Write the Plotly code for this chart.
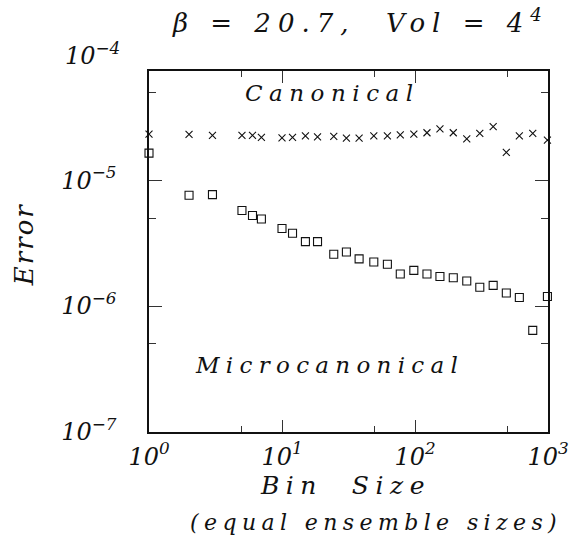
import plotly.graph_objects as go

bin_size = [1, 2, 3, 5, 6, 7, 10, 12, 15, 18.5, 24.5, 30.5, 38, 49, 62, 77.5, 98,
            123, 154, 194, 245, 307, 387, 486, 609, 768, 990]
canonical = [2.32e-5, 2.31e-5, 2.27e-5, 2.27e-5, 2.27e-5, 2.19e-5, 2.17e-5, 2.19e-5,
             2.25e-5, 2.21e-5, 2.23e-5, 2.16e-5, 2.16e-5, 2.25e-5, 2.25e-5, 2.29e-5,
             2.32e-5, 2.38e-5, 2.56e-5, 2.38e-5, 2.13e-5, 2.35e-5, 2.66e-5, 1.66e-5,
             2.25e-5, 2.35e-5, 2.08e-5]
microcanonical = [1.64e-5, 7.6e-6, 7.67e-6, 5.74e-6, 5.24e-6, 4.92e-6, 4.13e-6, 3.79e-6,
                  3.25e-6, 3.25e-6, 2.58e-6, 2.69e-6, 2.37e-6, 2.24e-6, 2.15e-6, 1.80e-6,
                  1.92e-6, 1.80e-6, 1.72e-6, 1.68e-6, 1.58e-6, 1.41e-6, 1.46e-6, 1.27e-6,
                  1.17e-6, 6.41e-7, 1.19e-6]

x_ticks = [1, 10, 100, 1000]
x_ticktext = ["10<sup>0</sup>", "10<sup>1</sup>", "10<sup>2</sup>", "10<sup>3</sup>"]
x_minor = [5, 50, 500]
y_ticks = [1e-7, 1e-6, 1e-5, 1e-4]
y_ticktext = ["10<sup>\u22127</sup>", "10<sup>\u22126</sup>", "10<sup>\u22125</sup>", "10<sup>\u22124</sup>"]
y_minor = [5e-7, 5e-6, 5e-5]
y_range = [-7, -4.133]

FONT = "DejaVu Serif"
INK = "#111111"
TICK_SIZE = 24

fig = go.Figure()
fig.add_trace(go.Scatter(
    x=bin_size, y=canonical, mode="markers", name="Canonical",
    marker=dict(symbol="x-thin-open", size=7, color=INK, line=dict(width=1.1, color=INK)),
    cliponaxis=False, showlegend=False))
fig.add_trace(go.Scatter(
    x=bin_size, y=microcanonical, mode="markers", name="Microcanonical",
    marker=dict(symbol="square-open", size=8, color=INK, line=dict(width=1.1, color=INK)),
    cliponaxis=False, showlegend=False))

axis_common = dict(showline=True, linecolor=INK, linewidth=1.5, mirror="ticks",
                   ticks="inside", tickcolor="#333333", tickwidth=1.2,
                   showgrid=False, zeroline=False)

fig.update_xaxes(type="log", range=[0, 3], tickvals=x_ticks, ticktext=x_ticktext,
                 ticklen=12, ticklabelstandoff=2,
                 minor=dict(tickvals=x_minor, ticks="inside", ticklen=6, tickcolor="#333333", tickwidth=1.2),
                 tickfont=dict(family=FONT, size=TICK_SIZE, style="italic", color=INK),
                 **axis_common)
fig.update_yaxes(type="log", range=y_range, tickvals=y_ticks, ticktext=y_ticktext,
                 ticklen=13, ticklabelstandoff=26,
                 minor=dict(tickvals=y_minor, ticks="inside", ticklen=7, tickcolor="#333333", tickwidth=1.2),
                 tickfont=dict(family=FONT, size=TICK_SIZE, style="italic", color=INK),
                 **axis_common)

# the top decade label sits just above the plotted range -> place it in paper coords
top_frac = (-4.0 - y_range[0]) / (y_range[1] - y_range[0])
fig.add_annotation(text=y_ticktext[-1], xref="paper", yref="paper", x=0, y=top_frac,
                   xshift=-27, xanchor="right", yanchor="middle", showarrow=False,
                   font=dict(family=FONT, size=TICK_SIZE, style="italic", color=INK))

def ann(text, x, y, size, angle=0, spacing=3):
    fig.add_annotation(
        text=f'<span style="letter-spacing:{spacing}px">{text}</span>',
        xref="paper", yref="paper",
        x=(x - 149) / 406, y=(432 - y) / 361,
        showarrow=False, textangle=angle, xanchor="center", yanchor="middle",
        font=dict(family=FONT, size=size, style="italic", color=INK))

ann("\u03b2 = 20.7,  Vol = 4<sup>4</sup>", 364, 21, 26, spacing=7)
ann("Canonical", 336, 93, 23, spacing=6.5)
ann("Microcanonical", 333, 365, 23, spacing=6.3)
ann("Error", 22, 245, 26, angle=-90, spacing=2)
ann("Bin  Size", 349, 486, 25, spacing=6.5)
ann("(equal ensemble sizes)", 380, 522, 22, spacing=5.4)

fig.update_layout(width=581, height=540, margin=dict(l=149, r=26, t=71, b=108),
                  plot_bgcolor="white", paper_bgcolor="white", showlegend=False)

fig.write_html("out.html")
